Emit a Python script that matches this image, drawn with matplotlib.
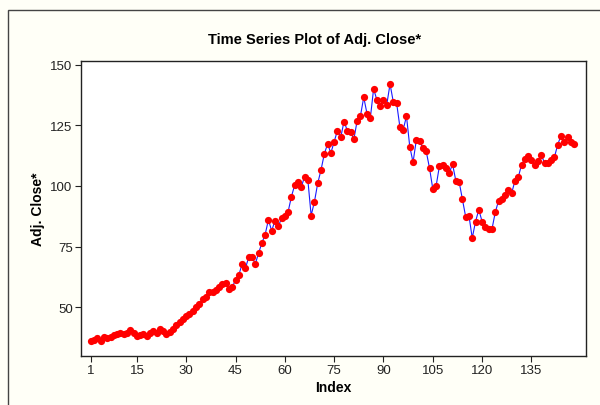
import matplotlib
matplotlib.use("Agg")
import matplotlib.pyplot as plt
from matplotlib.patches import Rectangle
import numpy as np

# Adj. Close values, index 1..148
adj_close = [
    36.0, 36.3, 37.2, 36.0, 37.5, 37.3, 37.6, 38.5, 38.8, 39.2,
    38.8, 39.5, 40.4, 39.3, 38.2, 38.5, 38.9, 38.2, 39.5, 40.3,
    39.5, 40.9, 40.0, 38.8, 39.8, 41.0, 42.5, 43.7, 45.0, 46.2,
    47.2, 48.5, 50.0, 51.2, 53.3, 54.3, 56.3, 56.3, 57.2, 58.1,
    59.5, 59.8, 57.4, 58.1, 61.3, 63.2, 67.8, 66.0, 70.5, 70.8,
    67.8, 72.2, 76.4, 79.9, 86.0, 81.5, 85.7, 83.3, 86.7, 87.8,
    89.4, 95.6, 100.4, 101.5, 99.5, 103.9, 102.5, 87.8, 93.5, 101.1,
    106.6, 113.2, 117.4, 113.6, 118.3, 122.9, 120.1, 126.6, 122.9, 122.2,
    119.3, 127.0, 129.0, 136.6, 129.8, 128.0, 140.1, 135.5, 133.2, 135.5,
    133.6, 142.1, 134.6, 134.2, 124.3, 123.3, 128.8, 116.2, 109.8, 119.1,
    118.4, 115.7, 114.3, 107.4, 98.8, 99.9, 108.1, 108.7, 107.3, 105.2,
    109.1, 102.2, 101.8, 94.6, 87.3, 87.7, 78.5, 85.3, 90.2, 85.3,
    82.9, 82.2, 82.2, 89.1, 93.9, 94.6, 96.3, 98.3, 97.1, 102.2,
    103.6, 108.8, 111.2, 112.5, 110.7, 108.8, 110.5, 112.8, 109.5, 109.4,
    110.9, 111.9, 117.1, 120.8, 118.1, 120.1, 118.1, 117.4,
]
index = np.arange(1, len(adj_close) + 1)

x_ticks = [1, 15, 30, 45, 60, 75, 90, 105, 120, 135]
y_ticks = [50, 75, 100, 125, 150]

plt.rcParams['font.family'] = ['Liberation Sans', 'DejaVu Sans']

fig = plt.figure(figsize=(6.0, 4.06), dpi=100)
fig.patch.set_facecolor('#fffff7')
# outer frame of the graph window (left and top edges visible)
fig.patches.append(Rectangle((8 / 600, -0.1), 1.2, 1.1 - 11 / 406,
                             transform=fig.transFigure, fill=False,
                             edgecolor='#444444', linewidth=1.0))

ax = fig.add_axes([81 / 600, 1 - 357 / 406, 505 / 600, 295 / 406])
ax.set_facecolor('white')
ax.plot(index, adj_close, color='#1a1aff', linewidth=0.8, zorder=2)
ax.plot(index, adj_close, 'o', color='#ff0000', markersize=5.2,
        markeredgewidth=0, zorder=3)

ax.set_xlim(-2, 151.6)
ax.set_ylim(29.8, 151.6)
ax.set_xticks(x_ticks)
ax.set_yticks(y_ticks)
ax.tick_params(direction='out', length=4, width=0.8, labelsize=9.5,
               colors='#222222', pad=2)
for s in ax.spines.values():
    s.set_linewidth(1.0)
    s.set_color('#222222')

fig.text(315 / 600, 1 - 40 / 406, 'Time Series Plot of Adj. Close*',
         fontsize=10.5, fontweight='bold', ha='center', va='center')
ax.set_xlabel('Index', fontsize=10, fontweight='bold', labelpad=3)
ax.set_ylabel('Adj. Close*', fontsize=10, fontweight='bold', labelpad=4)

fig.savefig('out.png', dpi=100, facecolor=fig.get_facecolor())
